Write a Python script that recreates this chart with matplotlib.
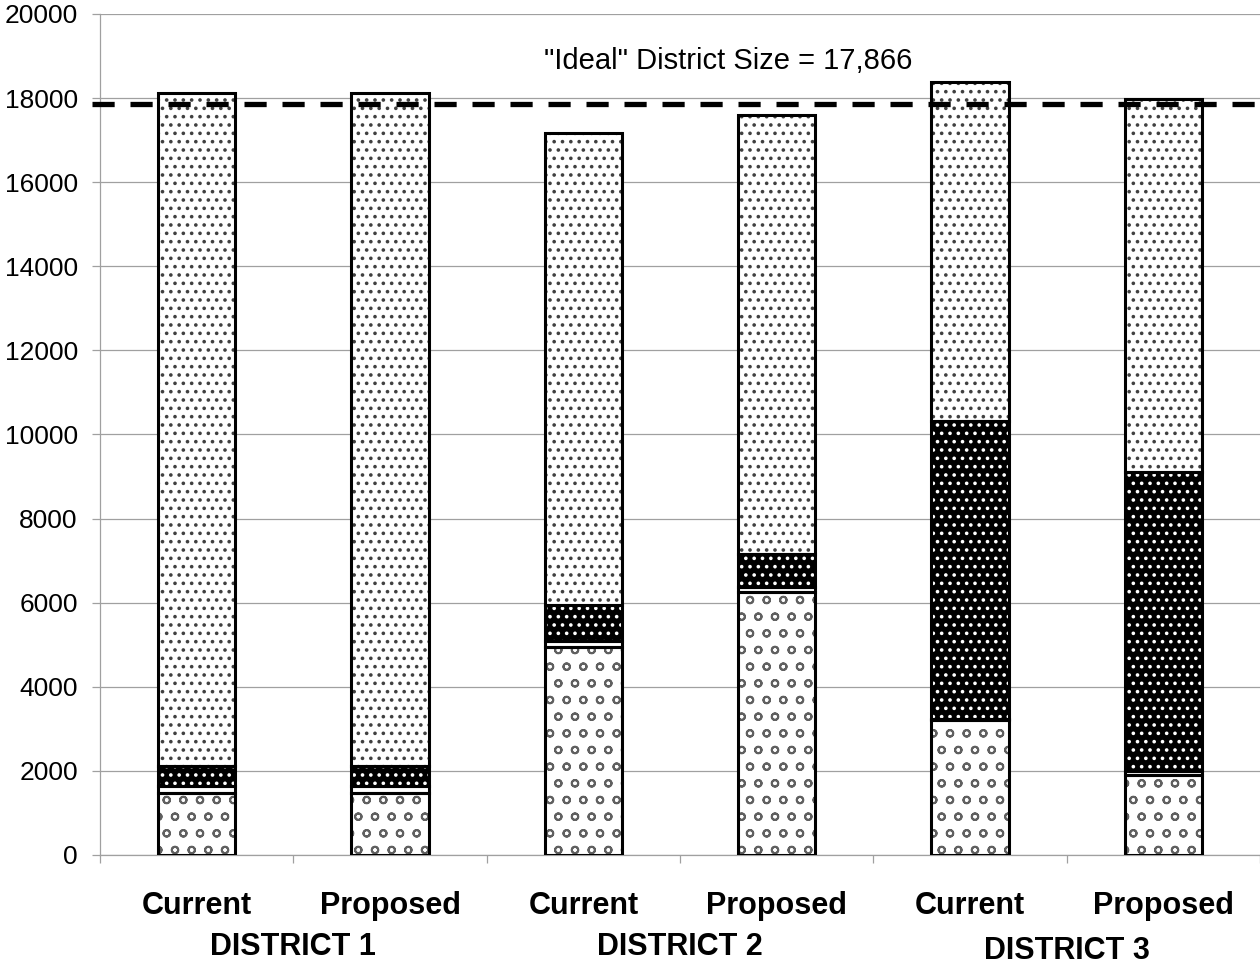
import matplotlib
matplotlib.use('Agg')
import matplotlib.pyplot as plt
import numpy as np

plt.rcParams['font.family'] = ['Liberation Sans', 'DejaVu Sans']
plt.rcParams['hatch.linewidth'] = 1.4

# bar labels and district names
plans = ['Current', 'Proposed', 'Current', 'Proposed', 'Current', 'Proposed']
districts = ['DISTRICT 1', 'DISTRICT 2', 'DISTRICT 3']

# stacked segments, bottom to top
seg_base = [1470, 1470, 4950, 6250, 3200, 1900]
seg_band = [160, 160, 140, 130, 30, 100]
seg_dark = [480, 480, 860, 770, 7090, 7100]
totals = [18130, 18130, 17180, 17600, 18380, 17970]
seg_top = [t - a - b - c for t, a, b, c in zip(totals, seg_base, seg_band, seg_dark)]

ideal = 17866

fig = plt.figure(figsize=(12.6, 9.64), dpi=100)
ax = fig.add_axes([100 / 1260, 109 / 964, 1160 / 1260, 841 / 964])

x = np.arange(len(plans))
w = 0.4

layers = [
    (seg_base, 'white', '#606060', 'o'),
    (seg_band, 'white', 'white', None),
    (seg_dark, 'black', 'white', '..'),
    (seg_top, 'white', '#404040', '..'),
]

bottom = np.zeros(len(plans))
for vals, face, hcol, hatch in layers:
    vals = np.array(vals, dtype=float)
    ax.bar(x, vals, w, bottom=bottom, color=face, edgecolor=hcol,
           hatch=hatch, linewidth=0, zorder=2)
    ax.bar(x, vals, w, bottom=bottom, fill=False, edgecolor='black',
           linewidth=2.2, zorder=3)
    bottom += vals

ax.plot([-0.54, 5.5], [ideal, ideal], color='black', lw=3.8,
        linestyle=(0, (4.2, 3.0)), zorder=4, clip_on=False)
ax.text(2.75, 18880, '"Ideal" District Size = 17,866', ha='center',
        va='center', fontsize=21)

ax.set_xlim(-0.5, 5.5)
ax.set_ylim(0, 20000)
ax.set_yticks(np.arange(0, 20001, 2000))
ax.yaxis.grid(True, color='#a0a0a0', lw=0.9, zorder=0)
ax.set_axisbelow(True)
ax.tick_params(axis='y', length=6, width=0.9, color='#a0a0a0', pad=10,
               labelsize=19)

ax.set_xticks(np.arange(-0.5, 5.6, 1.0))
ax.set_xticklabels([])
ax.tick_params(axis='x', length=6, width=0.9, color='#a0a0a0')

for s in ['top', 'right']:
    ax.spines[s].set_visible(False)
for s in ['left', 'bottom']:
    ax.spines[s].set_color('#a0a0a0')
    ax.spines[s].set_linewidth(0.9)

for i, p in enumerate(plans):
    ax.annotate(p, (x[i], 0), xycoords=('data', 'axes fraction'),
                xytext=(0, -51), textcoords='offset pixels',
                ha='center', va='center', fontsize=22, fontweight='bold')
for j, d in enumerate(districts):
    dy = -96 if j == 2 else -92
    ax.annotate(d, (2 * j + 0.5, 0), xycoords=('data', 'axes fraction'),
                xytext=(0, dy), textcoords='offset pixels',
                ha='center', va='center', fontsize=22, fontweight='bold')

fig.savefig('out.png', dpi=100)
